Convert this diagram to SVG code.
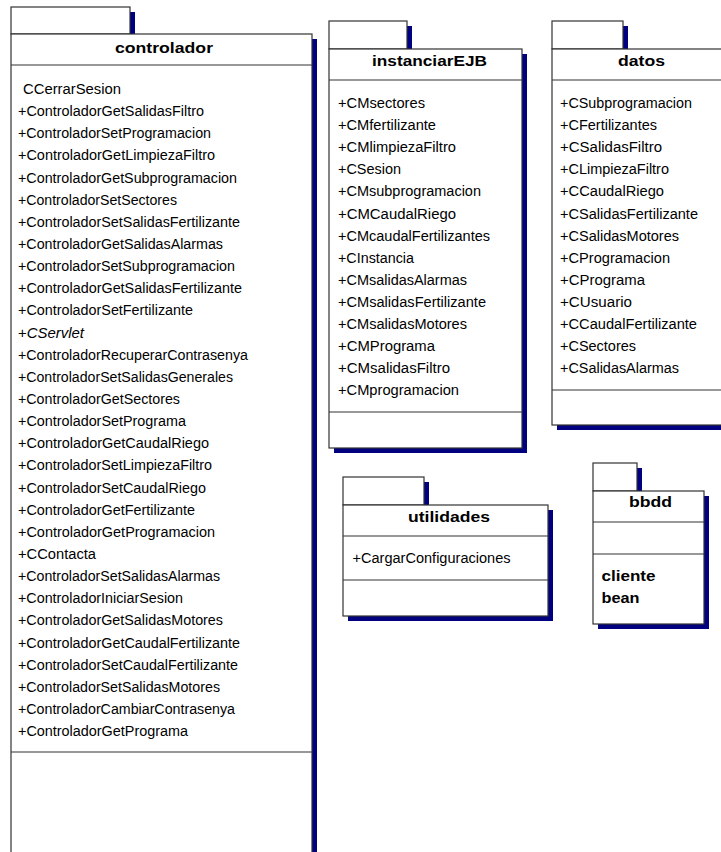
<svg xmlns="http://www.w3.org/2000/svg" width="721" height="852" viewBox="0 0 721 852">
  <style>
    .shadow { fill: #000080; stroke: none; }
    .box { fill: #ffffff; stroke: #333333; stroke-width: 1.2; }
    .sep { stroke: #333333; stroke-width: 1.2; }
    .title { font-family: "Liberation Sans", Arial, sans-serif; font-size: 15px; font-weight: bold; fill: #000000; }
    .item { font-family: "Liberation Sans", Arial, sans-serif; font-size: 14px; fill: #000000; }
    .bold { font-family: "Liberation Sans", Arial, sans-serif; font-size: 14px; font-weight: bold; fill: #000000; }
    .ital { font-style: italic; }
  </style>
  <rect width="721" height="852" fill="#ffffff"/>

  <!-- package: controlador -->
  <g id="controlador">
    <rect class="shadow" x="16" y="12" width="119" height="27"/>
    <rect class="shadow" x="16" y="39" width="301" height="830"/>
    <rect class="box" x="11" y="7" width="119" height="27"/>
    <rect class="box" x="11" y="34" width="301" height="830"/>
    <line class="sep" x1="11" y1="65" x2="312" y2="65"/>
    <line class="sep" x1="11" y1="752" x2="312" y2="752"/>
    <text class="title" x="115" y="53" textLength="98" lengthAdjust="spacingAndGlyphs">controlador</text>
    <text class="item" x="23" y="94" textLength="98" lengthAdjust="spacingAndGlyphs">CCerrarSesion</text>
    <text class="item" x="18" y="116.1" textLength="186" lengthAdjust="spacingAndGlyphs">+ControladorGetSalidasFiltro</text>
    <text class="item" x="18" y="138.3" textLength="193" lengthAdjust="spacingAndGlyphs">+ControladorSetProgramacion</text>
    <text class="item" x="18" y="160.4" textLength="197" lengthAdjust="spacingAndGlyphs">+ControladorGetLimpiezaFiltro</text>
    <text class="item" x="18" y="182.6" textLength="219" lengthAdjust="spacingAndGlyphs">+ControladorGetSubprogramacion</text>
    <text class="item" x="18" y="204.7" textLength="159" lengthAdjust="spacingAndGlyphs">+ControladorSetSectores</text>
    <text class="item" x="18" y="226.8" textLength="222" lengthAdjust="spacingAndGlyphs">+ControladorSetSalidasFertilizante</text>
    <text class="item" x="18" y="249" textLength="205" lengthAdjust="spacingAndGlyphs">+ControladorGetSalidasAlarmas</text>
    <text class="item" x="18" y="271.1" textLength="217" lengthAdjust="spacingAndGlyphs">+ControladorSetSubprogramacion</text>
    <text class="item" x="18" y="293.3" textLength="224" lengthAdjust="spacingAndGlyphs">+ControladorGetSalidasFertilizante</text>
    <text class="item" x="18" y="315.4" textLength="175" lengthAdjust="spacingAndGlyphs">+ControladorSetFertilizante</text>
    <text class="item" x="18" y="337.5" textLength="66" lengthAdjust="spacingAndGlyphs">+<tspan class="ital">CServlet</tspan></text>
    <text class="item" x="18" y="359.7" textLength="230" lengthAdjust="spacingAndGlyphs">+ControladorRecuperarContrasenya</text>
    <text class="item" x="18" y="381.8" textLength="215" lengthAdjust="spacingAndGlyphs">+ControladorSetSalidasGenerales</text>
    <text class="item" x="18" y="404" textLength="162" lengthAdjust="spacingAndGlyphs">+ControladorGetSectores</text>
    <text class="item" x="18" y="426.1" textLength="168" lengthAdjust="spacingAndGlyphs">+ControladorSetPrograma</text>
    <text class="item" x="18" y="448.2" textLength="191" lengthAdjust="spacingAndGlyphs">+ControladorGetCaudalRiego</text>
    <text class="item" x="18" y="470.4" textLength="194" lengthAdjust="spacingAndGlyphs">+ControladorSetLimpiezaFiltro</text>
    <text class="item" x="18" y="492.5" textLength="188" lengthAdjust="spacingAndGlyphs">+ControladorSetCaudalRiego</text>
    <text class="item" x="18" y="514.7" textLength="177" lengthAdjust="spacingAndGlyphs">+ControladorGetFertilizante</text>
    <text class="item" x="18" y="536.8" textLength="197" lengthAdjust="spacingAndGlyphs">+ControladorGetProgramacion</text>
    <text class="item" x="18" y="558.9" textLength="78" lengthAdjust="spacingAndGlyphs">+CContacta</text>
    <text class="item" x="18" y="581.1" textLength="202" lengthAdjust="spacingAndGlyphs">+ControladorSetSalidasAlarmas</text>
    <text class="item" x="18" y="603.2" textLength="165" lengthAdjust="spacingAndGlyphs">+ControladorIniciarSesion</text>
    <text class="item" x="18" y="625.4" textLength="205" lengthAdjust="spacingAndGlyphs">+ControladorGetSalidasMotores</text>
    <text class="item" x="18" y="647.5" textLength="222" lengthAdjust="spacingAndGlyphs">+ControladorGetCaudalFertilizante</text>
    <text class="item" x="18" y="669.6" textLength="220" lengthAdjust="spacingAndGlyphs">+ControladorSetCaudalFertilizante</text>
    <text class="item" x="18" y="691.8" textLength="202" lengthAdjust="spacingAndGlyphs">+ControladorSetSalidasMotores</text>
    <text class="item" x="18" y="713.9" textLength="217" lengthAdjust="spacingAndGlyphs">+ControladorCambiarContrasenya</text>
    <text class="item" x="18" y="736" textLength="170" lengthAdjust="spacingAndGlyphs">+ControladorGetPrograma</text>
  </g>

  <!-- package: instanciarEJB -->
  <g id="instanciarEJB">
    <rect class="shadow" x="334" y="26" width="78" height="28"/>
    <rect class="shadow" x="334" y="54" width="193" height="399"/>
    <rect class="box" x="329" y="21" width="78" height="28"/>
    <rect class="box" x="329" y="49" width="193" height="399"/>
    <line class="sep" x1="329" y1="80" x2="522" y2="80"/>
    <line class="sep" x1="329" y1="412" x2="522" y2="412"/>
    <text class="title" x="372" y="65.5" textLength="115" lengthAdjust="spacingAndGlyphs">instanciarEJB</text>
    <text class="item" x="338" y="108" textLength="87" lengthAdjust="spacingAndGlyphs">+CMsectores</text>
    <text class="item" x="338" y="130.1" textLength="98" lengthAdjust="spacingAndGlyphs">+CMfertilizante</text>
    <text class="item" x="338" y="152.2" textLength="118" lengthAdjust="spacingAndGlyphs">+CMlimpiezaFiltro</text>
    <text class="item" x="338" y="174.3" textLength="63" lengthAdjust="spacingAndGlyphs">+CSesion</text>
    <text class="item" x="338" y="196.4" textLength="143" lengthAdjust="spacingAndGlyphs">+CMsubprogramacion</text>
    <text class="item" x="338" y="218.5" textLength="118" lengthAdjust="spacingAndGlyphs">+CMCaudalRiego</text>
    <text class="item" x="338" y="240.6" textLength="152" lengthAdjust="spacingAndGlyphs">+CMcaudalFertilizantes</text>
    <text class="item" x="338" y="262.7" textLength="76" lengthAdjust="spacingAndGlyphs">+CInstancia</text>
    <text class="item" x="338" y="284.8" textLength="129" lengthAdjust="spacingAndGlyphs">+CMsalidasAlarmas</text>
    <text class="item" x="338" y="306.9" textLength="148" lengthAdjust="spacingAndGlyphs">+CMsalidasFertilizante</text>
    <text class="item" x="338" y="329" textLength="129" lengthAdjust="spacingAndGlyphs">+CMsalidasMotores</text>
    <text class="item" x="338" y="351.1" textLength="97" lengthAdjust="spacingAndGlyphs">+CMPrograma</text>
    <text class="item" x="338" y="373.2" textLength="112" lengthAdjust="spacingAndGlyphs">+CMsalidasFiltro</text>
    <text class="item" x="338" y="395.3" textLength="121" lengthAdjust="spacingAndGlyphs">+CMprogramacion</text>
  </g>

  <!-- package: datos -->
  <g id="datos">
    <rect class="shadow" x="557" y="26" width="71" height="28"/>
    <rect class="shadow" x="557" y="54" width="183" height="376"/>
    <rect class="box" x="552" y="21" width="71" height="28"/>
    <rect class="box" x="552" y="49" width="183" height="376"/>
    <line class="sep" x1="552" y1="80" x2="735" y2="80"/>
    <line class="sep" x1="552" y1="390" x2="735" y2="390"/>
    <text class="title" x="618" y="65.5" textLength="47" lengthAdjust="spacingAndGlyphs">datos</text>
    <text class="item" x="560" y="108" textLength="132" lengthAdjust="spacingAndGlyphs">+CSubprogramacion</text>
    <text class="item" x="560" y="130.1" textLength="97" lengthAdjust="spacingAndGlyphs">+CFertilizantes</text>
    <text class="item" x="560" y="152.2" textLength="102" lengthAdjust="spacingAndGlyphs">+CSalidasFiltro</text>
    <text class="item" x="560" y="174.3" textLength="109" lengthAdjust="spacingAndGlyphs">+CLimpiezaFiltro</text>
    <text class="item" x="560" y="196.4" textLength="104" lengthAdjust="spacingAndGlyphs">+CCaudalRiego</text>
    <text class="item" x="560" y="218.5" textLength="138" lengthAdjust="spacingAndGlyphs">+CSalidasFertilizante</text>
    <text class="item" x="560" y="240.6" textLength="119" lengthAdjust="spacingAndGlyphs">+CSalidasMotores</text>
    <text class="item" x="560" y="262.7" textLength="110" lengthAdjust="spacingAndGlyphs">+CProgramacion</text>
    <text class="item" x="560" y="284.8" textLength="85" lengthAdjust="spacingAndGlyphs">+CPrograma</text>
    <text class="item" x="560" y="306.9" textLength="72" lengthAdjust="spacingAndGlyphs">+CUsuario</text>
    <text class="item" x="560" y="329" textLength="137" lengthAdjust="spacingAndGlyphs">+CCaudalFertilizante</text>
    <text class="item" x="560" y="351.1" textLength="76" lengthAdjust="spacingAndGlyphs">+CSectores</text>
    <text class="item" x="560" y="373.2" textLength="119" lengthAdjust="spacingAndGlyphs">+CSalidasAlarmas</text>
  </g>

  <!-- package: utilidades -->
  <g id="utilidades">
    <rect class="shadow" x="348" y="482" width="81" height="28"/>
    <rect class="shadow" x="348" y="510" width="205" height="111"/>
    <rect class="box" x="343" y="477" width="81" height="28"/>
    <rect class="box" x="343" y="505" width="205" height="111"/>
    <line class="sep" x1="343" y1="536" x2="548" y2="536"/>
    <line class="sep" x1="343" y1="580" x2="548" y2="580"/>
    <text class="title" x="408" y="521.7" textLength="82" lengthAdjust="spacingAndGlyphs">utilidades</text>
    <text class="item" x="352.5" y="563" textLength="158" lengthAdjust="spacingAndGlyphs">+CargarConfiguraciones</text>
  </g>

  <!-- package: bbdd -->
  <g id="bbdd">
    <rect class="shadow" x="598" y="468" width="44" height="28"/>
    <rect class="shadow" x="598" y="496" width="111" height="133"/>
    <rect class="box" x="593" y="463" width="44" height="28"/>
    <rect class="box" x="593" y="491" width="111" height="133"/>
    <line class="sep" x1="593" y1="522" x2="704" y2="522"/>
    <line class="sep" x1="593" y1="554" x2="704" y2="554"/>
    <text class="title" x="629" y="507.3" textLength="43" lengthAdjust="spacingAndGlyphs">bbdd</text>
    <text class="bold" x="601.5" y="581" textLength="54" lengthAdjust="spacingAndGlyphs">cliente</text>
    <text class="bold" x="601.5" y="602.7" textLength="38" lengthAdjust="spacingAndGlyphs">bean</text>
  </g>

  <!-- no connectors between packages -->
  <g id="connectors"></g>
</svg>
